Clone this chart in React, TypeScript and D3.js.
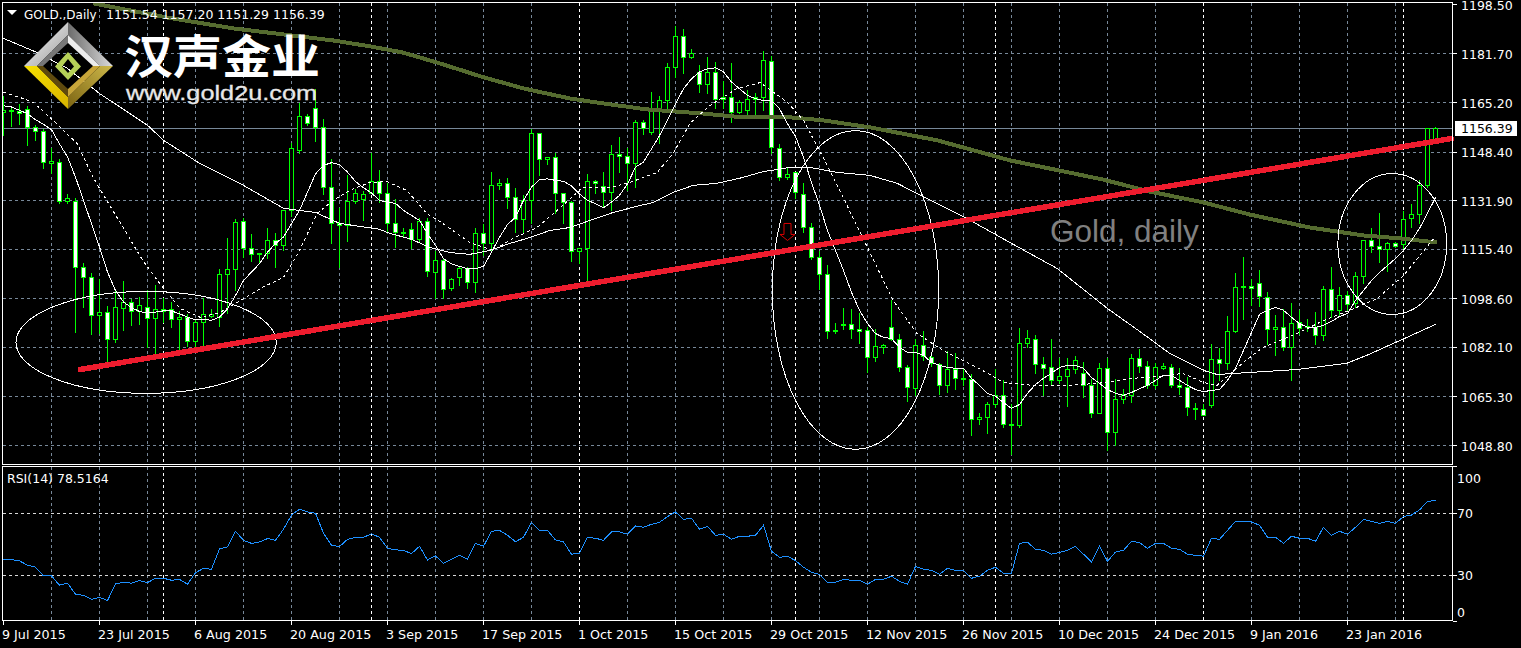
import React from 'react';
import * as d3 from 'd3';

const opens = [
  1161.9,1162.5,1162.2,1162.9,1156.8,1155.4,1144.5,1144.9,1131.7,1131.7,
  1109.2,1105.8,1092.9,1094,1084.8,1095.3,1097.4,1094.3,1095.7,1091.9,
  1095,1095,1091.6,1092.3,1084.1,1090.6,1092.6,1092.3,1106.9,1108.6,
  1124.9,1115.7,1114,1114,1118.4,1116.7,1128.6,1149,1160.5,1163.2,
  1156.8,1136.4,1124.2,1123.5,1131.7,1132.3,1134.4,1138.4,1134.4,1124.2,
  1121.1,1122.1,1118.8,1124.9,1107.5,1111.6,1102.1,1105.8,1108.9,1104.1,
  1120.8,1117.4,1137.1,1137.7,1133,1125.5,1132,1154.7,1145.9,1146.6,
  1134.4,1131.3,1114.7,1115.7,1138.4,1136.7,1134.7,1147.6,1146.9,1144.5,
  1158.5,1155.1,1162.2,1166,1177.2,1187.7,1180.5,1175.4,1171.4,1175.4,
  1166.9,1166.9,1161.9,1162.5,1166.9,1166.9,1179.2,1149.6,1139.8,1141.5,
  1134,1122.8,1112.6,1106.9,1087.5,1089.9,1089.9,1088.2,1087.9,1078.7,
  1082.1,1088.9,1084.8,1075.3,1068.1,1082.8,1078.7,1076.3,1069.2,1074.6,
  1071.5,1071.2,1057.6,1058.3,1062.7,1065.8,1055.9,1055.6,1083.4,1084.8,
  1076.3,1075.3,1070.9,1072.2,1074.6,1073.3,1069.2,1059.7,1074.9,1053.2,
  1064.4,1065.8,1078.3,1075.6,1069.2,1075,1075.3,1069.2,1068.5,1061.4,
  1061,1062.4,1078,1076.6,1087.5,1102.8,1102.8,1103.8,1099,1088.2,
  1088.9,1082.1,1090.6,1089.2,1088.9,1086.2,1101.8,1094.7,1099.7,1097,
  1106.2,1118.4,1116.3,1115.4,1117.4,1117,1125.9,1127.2,1137.1,1151.54,
];
const highs = [
  1167.6,1163.9,1164.9,1164.2,1157.8,1156.4,1150,1146.2,1134.4,1133,
  1110.9,1107.5,1105.5,1096.4,1101.4,1104.8,1098.7,1099.4,1101.8,1103.5,
  1099,1097.7,1094.7,1093.6,1091.9,1099,1095.3,1108.9,1119.4,1125.9,
  1126.2,1120.8,1114.3,1122.8,1121.1,1128.6,1151.7,1165.3,1161.5,1170,
  1159.8,1146.2,1129.6,1140.8,1136.1,1135.4,1148.3,1142.5,1138.1,1132.7,
  1122.8,1124.5,1126.2,1126.2,1115,1112.3,1105.8,1109.9,1109.6,1122.8,
  1124.2,1141.8,1139.4,1139.8,1136.4,1134,1156.4,1154.7,1146.6,1148.3,
  1134.4,1132,1116,1141.1,1139.1,1141.8,1151,1153.7,1150,1159.5,
  1159.5,1169,1167.6,1178.9,1191.4,1190.4,1183.6,1178.2,1180.9,1179.2,
  1172.7,1178.9,1166.3,1169.7,1168.6,1182.9,1181.2,1151.3,1143.5,1141.5,
  1138.1,1124.5,1115,1110.3,1090.6,1095.7,1095.3,1093.9,1089.2,1088.5,
  1083.4,1098.4,1086.9,1076.3,1085.2,1087.9,1080,1077,1081.1,1080.4,
  1074.9,1073.3,1060,1063.8,1074.9,1071.2,1063.1,1088.9,1088.2,1086.5,
  1079,1085.2,1078.7,1078.7,1079.4,1077.3,1071.5,1077,1078.7,1071.5,
  1068.1,1080,1081.8,1077.7,1077,1077,1076.6,1075.3,1072.2,1063.4,
  1063.1,1083.4,1082.1,1093,1107.5,1113,1105.5,1108.5,1101.1,1093.3,
  1095.3,1097.4,1095,1091.9,1094.3,1103.1,1109.6,1102.8,1101.4,1107.9,
  1118.8,1122.8,1127.9,1118.1,1118.1,1128.6,1131,1139.1,1156.8,1157.2,
];
const lows = [
  1154.1,1157.1,1157.8,1150.7,1152.4,1142.8,1141.1,1131,1131,1087.2,
  1095.7,1086.5,1086.9,1076.6,1083.8,1087.9,1089.6,1089.9,1082.1,1079.7,
  1090.6,1088.9,1080.7,1082.4,1082.1,1082.1,1092.3,1089.2,1093.6,1101.4,
  1112.6,1111.3,1110.9,1112.3,1109.2,1115,1126.6,1147.9,1157.5,1152,
  1134,1117.4,1109.2,1118.1,1131,1125.2,1134.4,1131.3,1121.1,1116,
  1119.4,1115.7,1117.7,1106.2,1098.7,1098.7,1101.4,1103.1,1102.1,1100.7,
  1113.3,1115,1135.7,1129.3,1121.1,1120.8,1124.2,1140.5,1144.2,1127.6,
  1124.2,1111.3,1110.6,1104.1,1134.4,1129.6,1128.6,1141.5,1135.4,1136.4,
  1154.4,1154.4,1151.3,1162.2,1173.7,1175.1,1180.2,1168.6,1168.3,1163.2,
  1163.2,1158.5,1161.5,1161.2,1159.8,1162.5,1147.9,1138.8,1139.1,1132.7,
  1121.1,1112,1101.8,1085.2,1086.9,1088.2,1085.2,1083.4,1073.6,1077.3,
  1080,1084.5,1073.9,1063.8,1065.8,1077.7,1075.6,1066.1,1066.8,1067.8,
  1069.2,1052.2,1056,1052.9,1061.7,1054.9,1045.7,1054.9,1082.1,1073.3,
  1065.8,1069.2,1069.9,1062.1,1073.3,1065.1,1058.3,1059.7,1047.1,1048.8,
  1063.1,1063.4,1073.6,1068.1,1068.1,1074.6,1068.5,1066.1,1059,1057.6,
  1059,1061.7,1070.9,1074.6,1087.2,1091.6,1096.3,1096,1083.1,1079.4,
  1081.1,1070.9,1086.5,1087.5,1083.1,1084.5,1092.3,1092.6,1094.7,1095.7,
  1103.8,1114.3,1110.9,1107.9,1116,1115.7,1122.8,1124.2,1136.4,1151.29,
];
const closes = [
  1162.5,1162.2,1161.5,1156.8,1155.4,1144.9,1145.2,1131.7,1132.7,1109.2,
  1105.8,1092.9,1094,1084.8,1095.7,1097.4,1094.3,1096.4,1091.9,1095,
  1094.3,1091.6,1092.3,1084.1,1090.6,1093.3,1093.3,1106.9,1108.6,1124.5,
  1115.7,1113.7,1113.7,1118.4,1116.7,1128.6,1149.6,1160.5,1158.1,1156.8,
  1136.4,1124.2,1123.5,1131.7,1134.4,1134,1138.4,1134.4,1124.2,1121.1,
  1120.8,1118.8,1124.9,1107.9,1111.6,1101.8,1105.1,1108.9,1104.1,1120.8,
  1117.4,1137.1,1137.7,1133,1125.5,1132,1154.7,1145.9,1146.6,1134.4,
  1131.3,1114.7,1115.7,1138.4,1137.7,1134.7,1147.6,1146.9,1144.5,1158.5,
  1156.4,1162.2,1166,1177.2,1187.7,1180.5,1181.9,1171.4,1175.4,1166.3,
  1166.3,1161.9,1165.3,1166.3,1166.3,1179.5,1150,1139.8,1140.8,1134.7,
  1122.8,1112.6,1106.9,1087.5,1087.9,1089.6,1088.2,1087.5,1078.7,1082.4,
  1082.8,1084.8,1075.3,1068.5,1082.8,1079,1076.6,1069.2,1074.6,1071.5,
  1071.2,1057.6,1058.3,1062.7,1065.8,1055.9,1055.6,1083.4,1085.2,1076.3,
  1074.9,1070.9,1072.2,1074.6,1077.7,1069.2,1059.7,1074.9,1053.2,1064.4,
  1066.1,1078.3,1075.6,1069.2,1075.3,1075.6,1069.2,1068.5,1061.7,1061,
  1059,1078,1076.6,1087.5,1102.5,1102.5,1102.1,1099.4,1088.2,1088.9,
  1082.1,1090.2,1088.5,1088.9,1086.2,1101.8,1094.7,1099.7,1096.7,1106.2,
  1118.4,1116.3,1115.4,1117.4,1116.3,1125.5,1127.2,1137.1,1156.4,1156.39,
];

// fast moving average, one reading per bar
const maFast = [
  1164.1,1163.7,1162.6,1161.4,1159.4,1157.8,1156,1151.2,1146.7,1139.9,
  1132,1124.1,1116.2,1107.7,1101.4,1097.5,1095.6,1094.3,1093.8,1094.1,
  1094.5,1094.5,1093.5,1092.4,1091.5,1091.6,1091.3,1092.4,1095.2,1099.7,
  1104.8,1107.7,1110.5,1114.5,1117.3,1119.6,1124.1,1128.6,1134.8,1141,
  1143.9,1144.8,1144.2,1141.6,1138.4,1136.3,1134.5,1132,1131.4,1131,
  1128.6,1126.9,1125.2,1120.7,1116.7,1112.2,1110.5,1109.6,1108.8,1108.8,
  1109.6,1114.4,1119.5,1123.8,1126.3,1132,1136.5,1139.1,1139.3,1138.8,
  1138.5,1136.9,1134.2,1132,1130.9,1129.5,1131.4,1133.7,1137.6,1143.3,
  1145,1149.5,1154,1159.2,1164.8,1169.9,1173.3,1175.6,1176.7,1177,
  1175.6,1172.2,1169.9,1167.6,1166.5,1165.9,1165.9,1163.1,1158,1153.7,
  1146.6,1138.1,1130.3,1121.8,1115,1108.2,1100.8,1094.7,1090.2,1086.8,
  1085.5,1085.1,1082.1,1080.4,1080.4,1079.4,1077,1076,1075.3,1075,
  1075,1071.6,1069.2,1066.5,1065.5,1063.4,1061.4,1062.7,1066.5,1069.5,
  1071.6,1073.3,1075.3,1076,1076,1075,1071.9,1069.9,1067.8,1066.5,
  1065.8,1066.8,1068.1,1069.2,1070.9,1072.6,1072.6,1070.9,1069.2,1067.8,
  1067.1,1067.5,1067.8,1070.9,1075,1081.1,1087.2,1093.3,1094.7,1095.7,
  1094.7,1092.3,1090.2,1088.9,1088.9,1089.6,1090.9,1092.6,1093.6,1098,
  1101.4,1104.8,1107.5,1109.9,1112.3,1115,1118.4,1122.5,1127.6,1133,
];

const maDashBars = [0,2,3.7,5.8,9.2,11.2,12.9,15.4,17.4,19.9,22.1,24.6,27.1,29.6,32.1,35,37,39.2,41.2,43.3,45.8,47.9,50.4,52.9,54.9,58.3,61.2,63.7,66.7,69.2,72.4,75.8,78.3,81.7,83.7,85.8,88.3,91.7,94.6,98,100,103.3,108,111.2,114.2,117.4,121.7,125,128.7,133.3,138,141.2,145.8,147.4,150,151.7,155,157.4,161.7,165,168.3,171.7,175,179];
const maDash = [1168.7,1167,1165.3,1160.2,1151.3,1139.8,1132,1120.8,1111.6,1102.5,1095.3,1092.3,1094,1098,1102.1,1105.9,1115,1127.6,1132,1135.4,1138.1,1138.4,1135.4,1127.6,1124.2,1117.7,1115,1119.1,1122.8,1128.6,1136.4,1136.4,1138.1,1141.5,1147.9,1158.1,1164.2,1170,1172,1165.3,1159.2,1142.2,1116,1098,1086.8,1081.1,1075.3,1070.2,1069.2,1069.2,1070.2,1071.6,1072.6,1073.3,1070.2,1069.2,1077,1082.1,1086.8,1091.2,1094.7,1098.7,1106.5,1119.8];
const maMidBars = [0,4.2,8,12,18,20,24.5,30,35,39,42,47,48.3,51,53.3,55.8,58.3,60.8,63.3,65.8,68.3,70.8,73.3,76.2,79.2,81.2,83.7,86.2,89.2,92,95,96.7,98.3,100.8,104.2,108.3,111.7,115.4,120.4,125.8,131.7,138,142.4,145.8,150,151.7,155.8,161.7,167.9,170.4,174.6,179];
const maMid = [1187,1182.2,1176.8,1168.3,1157.5,1152.4,1144.6,1137.1,1129.3,1127.9,1124.2,1122.2,1120.8,1118.8,1116,1114.3,1113.7,1115,1117.4,1119.4,1121.8,1122.8,1125.2,1127.9,1130,1131.3,1134.7,1137.1,1137.8,1139.5,1141.8,1142.5,1143.2,1143.2,1141.5,1140.5,1137.8,1132.7,1125.9,1117.7,1108.9,1095.3,1086.8,1080,1074.3,1072.9,1073.6,1074.6,1076.7,1079.4,1084.5,1089.9];
const maSlowBars = [11.2,20.4,28.7,41.2,45.8,49.9,54.2,60,65,70.8,75,80.4,87.4,92.4,98.3,102.4,108.3,116.7,125.8,137.4,143.3,150,155.8,163.3,170,174.6,179.2];
const maSlow = [1198.9,1194.1,1190.4,1186.3,1184.3,1182.2,1178.8,1173.8,1170,1166.6,1164.9,1162.9,1161.5,1160.2,1160.2,1159.2,1156.8,1152.4,1145.6,1139.1,1135,1131.3,1127.2,1122.8,1120.1,1119.1,1117.7];

const rsiValues = [
  40.3,40.1,39.3,36.5,35.2,29.6,29.6,23.6,24.9,17.8,
  17.1,14.5,15.8,13.7,24.4,25.5,24.9,26.6,25.3,28.1,
  28.1,26.8,27.4,24.2,31.7,34.5,33.9,47,48.3,58.4,
  52.6,50.6,51.5,53.7,52.6,59.7,68.9,72.6,70.9,70,
  57.1,49.4,48.5,53.2,54.5,54.5,56.7,54.5,47.4,46.4,
  46.1,44,48.7,39.9,42.5,37.8,40.3,42.9,40.5,50.6,
  48.7,58.4,59,55.8,51.7,54.5,64.2,59,59,52.8,
  51.5,43.6,44.2,54.5,53.9,52.6,58,58,56.5,61.8,
  61,62.9,64.2,67.9,70.9,66.1,66.8,59.7,61.6,55.8,
  56.5,53.2,55.2,55.2,55.8,62.3,45.5,41.6,42.3,39.5,
  35.2,31.9,30.6,25.5,25.5,27.4,26.8,26.8,24.2,27.4,
  27.4,29.4,26.1,24.2,35.8,33.9,33.2,30.6,34.5,33.2,
  33.2,28.1,29.4,33.2,35.2,31.3,31.3,50.6,51.3,46.8,
  46.1,43.6,44.8,46.1,48.7,43.6,38.6,48.7,39,45,
  46.1,51.9,51.1,47.4,50.6,50.6,47.4,46.8,43.6,42.9,
  42.3,53.9,53.2,59,64.8,64.8,64.4,62.3,54.5,54.5,
  50.6,55.2,53.9,53.9,51.9,61,55.8,58.4,56.5,61,
  66.1,64.8,63.5,64.8,63.5,67.9,68.9,72.2,77.5,78.5,
];

const priceTicks = ['1198.50','1181.70','1165.20','1148.40','1131.90','1115.40','1098.60','1082.10','1065.30','1048.80'];
const rsiTicks = [100, 70, 30, 0];
const rsiLevels = [70, 30];
const dateLabels = ['9 Jul 2015','23 Jul 2015','6 Aug 2015','20 Aug 2015','3 Sep 2015','17 Sep 2015','1 Oct 2015','15 Oct 2015','29 Oct 2015','12 Nov 2015','26 Nov 2015','10 Dec 2015','24 Dec 2015','9 Jan 2016','23 Jan 2016'];
const separatorBars = [20, 46, 72, 99, 124, 150, 175];
const headerValues = ['1151.54', '1157.20', '1151.29', '1156.39'];
const lastPrice = 1156.39;

// trend line: [bar, price]
const trendStart = [9.6, 1074.6];
const trendEnd = [181, 1153];
// ellipses: bar left, bar right, price top, price bottom
const ellipses = [
  [1.56, 34.1, 1101.1, 1066.5],
  [96.1, 116.9, 1155.7, 1047.5],
  [166.8, 180.4, 1141.1, 1093.3],
];
const arrowBar = 98;
const arrowPrice = 1118.4;
const noteBar = 130.8;
const notePrice = 1118;

const width = 1521;
const height = 648;
const plotLeft = 2.5;
const plotRight = 1452.5;
const font = '"DejaVu Sans", sans-serif';

const x = d3.scaleLinear().domain([0, 179]).range([3.5, 1435.5]);
const y = d3.scaleLinear().domain([1048.8, 1198.5]).range([445.5, 4.5]);
const yRsi = d3.scaleLinear().domain([0, 100]).range([621.8, 466.8]);

const snap = (v: number) => Math.round(v - 0.5) + 0.5;

const lineFromBars = d3.line<number>().x((d, i) => x(i)).y((d) => y(d));
const rsiLine = d3.line<number>().x((d, i) => x(i)).y((d) => yRsi(d));
const knotLine = (bars: number[], values: number[]) =>
  d3.line<number>().x((d) => x(d)).y((d, i) => y(values[i]))(bars) || '';

const gridBars = d3.range(6, 180, 6);
const tickBars = dateLabels.map((_, i) => i * 12);
const gridPrices = priceTicks.map(Number).slice(1);

function Logo() {
  return (
    <g>
      <defs>
        <linearGradient id="silverL" x1="0" y1="0" x2="1" y2="1">
          <stop offset="0" stopColor="#ffffff" />
          <stop offset="1" stopColor="#9a9a9a" />
        </linearGradient>
        <linearGradient id="silverR" x1="0" y1="0" x2="1" y2="0">
          <stop offset="0" stopColor="#6b6b6b" />
          <stop offset="1" stopColor="#dcdcdc" />
        </linearGradient>
        <linearGradient id="goldL" x1="0" y1="0" x2="1" y2="1">
          <stop offset="0" stopColor="#f7e000" />
          <stop offset="1" stopColor="#d8b400" />
        </linearGradient>
        <linearGradient id="goldR" x1="1" y1="0" x2="0" y2="1">
          <stop offset="0" stopColor="#cdb84a" />
          <stop offset="1" stopColor="#7c6412" />
        </linearGradient>
      </defs>
      <polygon points="68,22 24,66 37,66 68,35" fill="url(#silverL)" />
      <polygon points="68,22 113,66 100,66 68,35" fill="url(#silverR)" />
      <polygon points="68,35 37,66 43,66 68,43" fill="#777" />
      <polygon points="68,35 100,66 93,66 68,43" fill="#ececec" />
      <polygon points="24,66 68,109 68,97 37,66" fill="url(#goldL)" />
      <polygon points="113,66 68,109 68,97 100,66" fill="url(#goldR)" />
      <polygon points="37,66 68,97 68,89 43,66" fill="#5f4a0e" />
      <polygon points="100,66 68,97 68,89 93,66" fill="#c8a63a" />
      <path d="M68,52 L55,66.5 L68,80 L81,66.5 Z M68,59 L74,66.5 L68,73 L62,66.5 Z" fill="#b6d157" fillRule="evenodd" />
      <text x="124" y="73" fontFamily='"Noto Sans CJK SC"' fontWeight="700" fontSize="46" fill="#fff" textLength="196" lengthAdjust="spacingAndGlyphs">汉声金业</text>
      <text x="126" y="100" fontFamily='"Liberation Sans"' fontSize="21" fill="#e8e8e8" stroke="#e8e8e8" strokeWidth="0.3" textLength="191" lengthAdjust="spacingAndGlyphs">www.gold2u.com</text>
    </g>
  );
}

export default function App() {
  return (
    <svg width={width} height={height} viewBox={`0 0 ${width} ${height}`} style={{ position: 'fixed', left: 0, top: 0, display: 'block', background: '#000' }}>
      <rect x={0} y={0} width={width} height={height} fill="#000" />
      <defs>
        <clipPath id="mainClip"><rect x={3} y={3} width={1450} height={461} /></clipPath>
      </defs>

      {/* grid */}
      <g shapeRendering="crispEdges" stroke="#778899" strokeWidth={1} strokeDasharray="3,3">
        {gridBars.map((b) => (
          <g key={b}>
            <line x1={snap(x(b))} x2={snap(x(b))} y1={3} y2={464} />
            <line x1={snap(x(b))} x2={snap(x(b))} y1={467} y2={620} />
          </g>
        ))}
        {gridPrices.map((p) => (
          <line key={p} x1={plotLeft} x2={plotRight} y1={snap(y(p))} y2={snap(y(p))} />
        ))}
      </g>
      <g shapeRendering="crispEdges" stroke="#d8d8d8" strokeWidth={1} strokeDasharray="3,3">
        {rsiLevels.map((l) => (
          <line key={l} x1={plotLeft} x2={plotRight} y1={snap(yRsi(l))} y2={snap(yRsi(l))} />
        ))}
      </g>
      <g shapeRendering="crispEdges" stroke="#fff" strokeWidth={1} strokeDasharray="3,3">
        {separatorBars.map((b) => (
          <g key={b}>
            <line x1={snap(x(b))} x2={snap(x(b))} y1={3} y2={464} />
            <line x1={snap(x(b))} x2={snap(x(b))} y1={467} y2={620} />
          </g>
        ))}
      </g>
      <line x1={plotLeft} x2={plotRight} y1={snap(y(lastPrice))} y2={snap(y(lastPrice))} stroke="#778899" shapeRendering="crispEdges" />

      {/* candles */}
      <g shapeRendering="crispEdges" clipPath="url(#mainClip)">
        {opens.map((o, i) => {
          const c = closes[i];
          const cx = snap(x(i));
          const top = snap(y(Math.max(o, c)));
          const bottom = snap(y(Math.min(o, c)));
          return (
            <g key={i}>
              <line x1={cx} x2={cx} y1={snap(y(highs[i]))} y2={snap(y(lows[i]))} stroke="#00ff00" />
              {bottom - top < 1 ? (
                <line x1={cx - 2} x2={cx + 3} y1={top} y2={top} stroke="#00ff00" />
              ) : (
                <rect x={cx - 2} y={top} width={4} height={bottom - top} fill={c > o ? '#000' : '#fff'} stroke="#00ff00" />
              )}
            </g>
          );
        })}
      </g>

      {/* moving averages */}
      <g clipPath="url(#mainClip)" fill="none" shapeRendering="crispEdges">
        <path d={knotLine(maSlowBars, maSlow)} stroke="#556b2f" strokeWidth={4} />
        <path d={knotLine(maMidBars, maMid)} stroke="#fff" strokeWidth={1} />
        <path d={lineFromBars(maFast) || ''} stroke="#fff" strokeWidth={1} />
        <path d={knotLine(maDashBars, maDash)} stroke="#fff" strokeWidth={1} strokeDasharray="3,3" />
      </g>

      {/* drawn objects */}
      <g fill="none" stroke="#fff" strokeWidth={1} shapeRendering="crispEdges">
        {ellipses.map((e, i) => (
          <ellipse
            key={i}
            cx={(x(e[0]) + x(e[1])) / 2}
            cy={(y(e[2]) + y(e[3])) / 2}
            rx={(x(e[1]) - x(e[0])) / 2}
            ry={(y(e[3]) - y(e[2])) / 2}
          />
        ))}
      </g>
      <line x1={x(trendStart[0])} y1={y(trendStart[1])} x2={x(trendEnd[0])} y2={y(trendEnd[1])} stroke="#ee1c2e" strokeWidth={5.5} strokeLinecap="round" shapeRendering="crispEdges" />
      <path
        transform={`translate(${snap(x(arrowBar))},${y(arrowPrice)})`}
        d="M-3.5,-17 H3.5 V-6 H7.5 L0,0 L-7.5,-6 H-3.5 Z"
        fill="#000"
        stroke="#d80000"
        strokeWidth={1}
      />
      <text x={x(noteBar)} y={y(notePrice)} fontFamily='"Liberation Sans"' fontSize="31.5" fill="#808080">Gold, daily</text>

      <Logo />

      {/* frame */}
      <g shapeRendering="crispEdges" stroke="#fff" fill="none">
        <rect x={2.5} y={2.5} width={1450} height={462} />
        <rect x={2.5} y={466.5} width={1450} height={154} />
      </g>

      {/* rsi */}
      <path d={rsiLine(rsiValues) || ''} fill="none" stroke="#1e90ff" strokeWidth={1} shapeRendering="crispEdges" />
      <text x={7} y={483} fontFamily={font} fontSize="12.5" fill="#fff">RSI(14) 78.5164</text>
      {rsiTicks.map((t) => (
        <g key={t}>
          <line x1={1453} x2={1457} y1={snap(yRsi(t))} y2={snap(yRsi(t))} stroke="#fff" shapeRendering="crispEdges" />
          <text x={1457} y={(t === 100 ? yRsi(t) + 16 : t === 0 ? yRsi(t) - 5 : yRsi(t) + 5) } fontFamily={font} fontSize="12.5" fill="#fff">{t}</text>
        </g>
      ))}

      {/* price axis */}
      {priceTicks.map((t) => (
        <g key={t}>
          <line x1={1453} x2={1457} y1={snap(y(Number(t)))} y2={snap(y(Number(t)))} stroke="#fff" shapeRendering="crispEdges" />
          <text x={1461} y={y(Number(t)) + 5} fontFamily={font} fontSize="12.5" fill="#fff">{t}</text>
        </g>
      ))}
      <rect x={1455} y={121} width={62} height={15} fill="#fff" />
      <text x={1461} y={133} fontFamily={font} fontSize="12.5" fill="#000">{lastPrice.toFixed(2)}</text>

      {/* date axis */}
      {tickBars.map((b, i) => (
        <g key={b}>
          <line x1={snap(x(b))} x2={snap(x(b))} y1={621} y2={625} stroke="#fff" shapeRendering="crispEdges" />
          <text x={x(b) - 1.5} y={639} fontFamily={font} fontSize="12.7" fill="#fff">{dateLabels[i]}</text>
        </g>
      ))}

      {/* header */}
      <polygon points="7,10 17,10 12,15" fill="#fff" />
      <text x={24} y={19} fontFamily={font} fontSize="12" fill="#fff">GOLD.,Daily</text>
      <text x={106} y={19} fontFamily={font} fontSize="12.5" fill="#fff">{headerValues.join(' ')}</text>
    </svg>
  );
}
